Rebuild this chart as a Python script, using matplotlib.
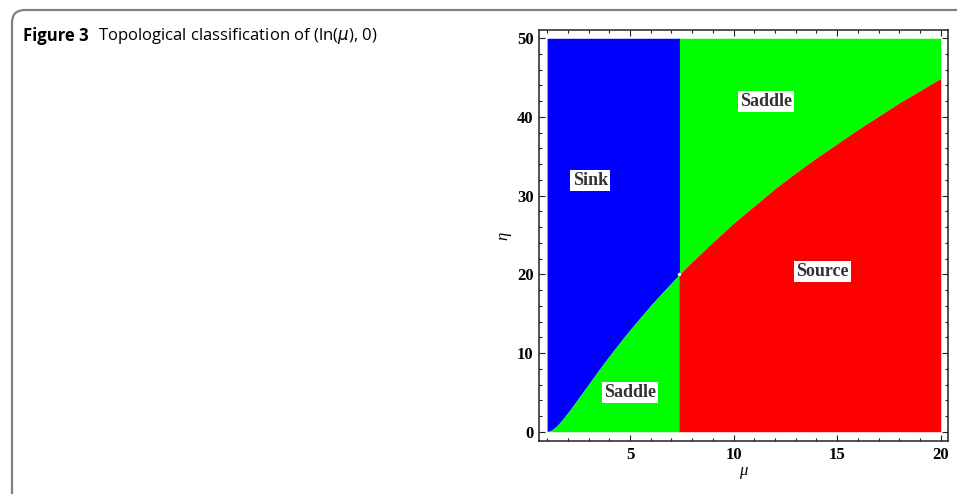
import matplotlib
matplotlib.use("Agg")
import numpy as np
import matplotlib.pyplot as plt
from matplotlib.patches import FancyBboxPatch
from matplotlib.ticker import MultipleLocator

# boundary curve (mu, eta)
mu_curve = [1, 1.25, 1.5, 1.75, 2, 2.5, 3, 3.5, 4, 4.5, 5, 5.5, 6, 6.5, 7.39,
            8, 9, 10, 11, 12, 13, 14, 15, 16, 17, 18, 19, 20]
eta_curve = [0, 0.25, 0.82, 1.57, 2.4, 4.2, 6.03, 7.85, 9.61, 11.3, 12.95, 14.5,
             16.05, 17.5, 20.0, 21.6, 24.1, 26.5, 28.7, 30.9, 32.9, 34.8, 36.6,
             38.4, 40.1, 41.8, 43.35, 44.9]
mu_split = 7.39
eta_split = 20.0
eta_max = 50

region_labels = ["Sink", "Saddle", "Source", "Saddle"]
label_mu = [3.08, 11.55, 14.3, 5.0]
label_eta = [31.9, 42.0, 20.4, 5.0]

mu = np.array(mu_curve)
eta = np.array(eta_curve)
left = mu <= mu_split
right = mu >= mu_split

fig = plt.figure(figsize=(9.57, 4.94), dpi=100)

# caption border (only top and left edges visible)
border = FancyBboxPatch((0.12, -3.0), 12, 7.84, boxstyle="round,pad=0,rounding_size=0.13",
                        transform=fig.dpi_scale_trans, fill=False, edgecolor="#808080", lw=1.6)
fig.add_artist(border)

cap_y = 1 - 36 / 494
t1 = fig.text(23 / 957, cap_y, "Figure 3", family="Open Sans", weight="bold",
              fontsize=12, va="center", ha="left")
fig.canvas.draw()
bb = t1.get_window_extent()
fig.text((bb.x1 + 9) / 957, cap_y, "Topological classification of (ln($\\mu$), 0)",
         family="Open Sans", fontsize=12, va="center", ha="left")

ax = fig.add_axes([539 / 957, 53 / 494, (948 - 539) / 957, (441 - 30) / 494])

ax.fill_between(mu[left], eta[left], eta_max, color="#0000ff", lw=0)
ax.fill_between(mu[left], 0, eta[left], color="#00ff00", lw=0)
ax.fill_between(mu[right], eta[right], eta_max, color="#00ff00", lw=0)
ax.fill_between(mu[right], 0, eta[right], color="#ff0000", lw=0)
ax.plot([mu_split, mu_split], [0, eta_max], color="#333333", lw=0.4, alpha=0.5)
ax.plot([mu_split], [eta_split], "o", color="#f4f4f4", ms=2.5, mew=0)

for txt, x, y in zip(region_labels, label_mu, label_eta):
    ax.text(x, y, txt, family="Liberation Serif", weight="bold", fontsize=13,
            color="#333333", ha="center", va="center",
            bbox=dict(facecolor="white", edgecolor="none", pad=1.5))

ax.set_xlim(0.61, 20.35)
ax.set_ylim(-1.18, 51.05)
ax.xaxis.set_major_locator(MultipleLocator(5))
ax.xaxis.set_minor_locator(MultipleLocator(1))
ax.yaxis.set_major_locator(MultipleLocator(10))
ax.yaxis.set_minor_locator(MultipleLocator(2))
ax.tick_params(which="both", direction="in", top=True, right=True, width=0.8, color="#222222")
ax.tick_params(which="major", length=4.5, pad=4)
ax.tick_params(which="minor", length=2.3)
for s in ax.spines.values():
    s.set_linewidth(1.1)
    s.set_color("#222222")
for lab in ax.get_xticklabels() + ax.get_yticklabels():
    lab.set_family("Liberation Serif")
    lab.set_weight("bold")
    lab.set_fontsize(12)

ax.set_xlabel("μ", family="Liberation Serif", style="italic", fontsize=12, labelpad=0)
ax.set_ylabel("η", family="Liberation Serif", style="italic", fontsize=12, labelpad=4)

fig.savefig("out.png", dpi=100)
